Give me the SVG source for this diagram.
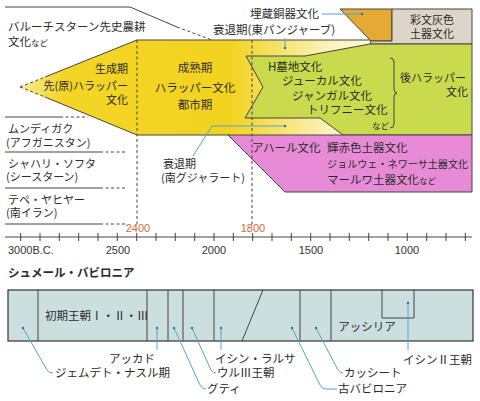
<svg xmlns="http://www.w3.org/2000/svg" width="480" height="401" viewBox="0 0 480 401">
<defs>
<linearGradient id="yg" x1="20" y1="0" x2="372" y2="0" gradientUnits="userSpaceOnUse">
<stop offset="0" stop-color="#f7ec9a"/>
<stop offset="0.12" stop-color="#f4d526"/>
<stop offset="0.6" stop-color="#f3d320"/>
<stop offset="0.88" stop-color="#fbf3bd"/>
<stop offset="1" stop-color="#fdf8d8"/>
</linearGradient>
<style>
text{font-family:"Noto Sans CJK JP","Noto Sans",sans-serif;font-size:11.5px;fill:#2b2b2b}
.num{font-family:"Liberation Sans",Arial,sans-serif;font-size:11px;fill:#333}
.org{font-family:"Liberation Sans",Arial,sans-serif;font-size:11px;fill:#d2683a}
.sm{font-size:8.5px}
.t11{font-size:11px}
.t10{font-size:10.1px}
.ol{fill:none;stroke:#444;stroke-width:1}
.ds{fill:none;stroke:#444;stroke-width:1;stroke-dasharray:3,2.5}
.ld{fill:none;stroke:#4ea4d2;stroke-width:1}
.dot{fill:#2f6f96}
.mid{text-anchor:middle}
.end{text-anchor:end}
</style>
</defs>
<rect width="480" height="401" fill="#ffffff"/>

<g id="baluchistan">
<path class="ol" d="M5,7 H130 L177,27"/>
<path class="ds" d="M177,27 L212,40"/>
<text x="8" y="31">バルーチスターン先史農耕</text>
<text x="8" y="46">文化<tspan class="sm">など</tspan></text>
</g>

<g id="harappa">
<polygon points="20,87 137,40 372,40 372,135 137,135" fill="url(#yg)"/>
<path class="ds" d="M20,87 L45,77 M20,87 L45,97"/>
<path class="ol" d="M45,77 L137,40 H372 M45,97 L137,135 H230"/>
<text class="end t11" x="128" y="73">生成期</text>
<text class="end t11" x="128" y="90">先(原)ハラッパー</text>
<text class="end t11" x="128" y="104">文化</text>
<text class="mid" x="195" y="72">成熟期</text>
<text class="mid" x="195" y="92">ハラッパー文化</text>
<text class="mid" x="195" y="109">都市期</text>
</g>

<g id="mundigak">
<path class="ol" d="M5,117 H60"/>
<path class="ds" d="M60,117 H88"/>
<text class="t11" x="8" y="133">ムンディガク</text>
<text class="t11" x="6" y="147">(アフガニスタン)</text>
</g>

<g id="shahr-i-sokhta">
<path class="ol" d="M5,152 H100"/>
<path class="ds" d="M100,152 H125"/>
<text class="t11" x="8" y="168">シャハリ・ソフタ</text>
<text class="t11" x="6" y="181">(シースターン)</text>
</g>

<g id="tepe-yahya">
<path class="ol" d="M5,188 H100"/>
<path class="ds" d="M100,188 H125"/>
<text class="t11" x="8" y="204">テペ・ヤヒヤー</text>
<text class="t11" x="6" y="217">(南イラン)</text>
<path class="ol" d="M5,224 H100"/>
<path class="ds" d="M100,224 H125"/>
</g>

<g id="copper-hoard">
<polygon points="340,9 392,9 392,41 371,41" fill="#e4aa33" stroke="#444" stroke-width="1"/>
<text x="250" y="18">埋蔵銅器文化</text>
</g>

<g id="painted-grey-ware">
<polygon points="392,9 472,9 472,44 370,44 371,41 392,41" fill="#ddd5c7" stroke="#444" stroke-width="1"/>
<text class="mid t11" x="432" y="24">彩文灰色</text>
<text class="mid t11" x="432" y="38">土器文化</text>
</g>

<g id="late-harappa">
<polygon points="246,56 305,56 370,44 472,44 472,135 343,135 320,118 245,118 263,87" fill="#c9da4c" stroke="#444" stroke-width="1"/>
<text x="268" y="71">H墓地文化</text>
<text x="282" y="85">ジューカル文化</text>
<text x="292" y="100">ジャンガル文化</text>
<text x="307" y="114">トリフニー文化</text>
<text class="sm" x="372" y="129">など</text>
<path class="ol" d="M390,58 q4,0 4,4 v27 q0,4 3,4 q-3,0 -3,4 v27 q0,4 -4,4"/>
<text class="t11" x="400" y="82">後ハラッパー</text>
<text class="end t11" x="468" y="96">文化</text>
</g>

<g id="east-punjab">
<text x="213" y="34">衰退期(東パンジャーブ)</text>
</g>

<g id="ahar">
<polygon points="228,135 472,135 472,192 285,192" fill="#e78bd6" stroke="#444" stroke-width="1"/>
<text x="252" y="152">アハール文化</text>
<text x="327" y="152">輝赤色土器文化</text>
<text class="t10" x="327" y="168">ジョルウェ・ネワーサ土器文化</text>
<text x="327" y="184">マールワ土器文化<tspan class="sm">など</tspan></text>
</g>

<g id="south-gujarat">
<text class="t11" x="163" y="168">衰退期</text>
<text class="t11" x="161" y="182">(南グジャラート)</text>
</g>

<g id="dividers">
<path class="ds" d="M137,40 V226 M252,40 V226"/>
<text class="org mid" x="138" y="232">2400</text>
<text class="org mid" x="253" y="232">1800</text>
</g>

<g id="axis">
<path class="ol" d="M5,237 H472"/>
<path class="ol" d="M20.7,233 V241 M40,233 V241 M59.3,233 V241 M78.7,233 V241 M98,233 V241 M117.3,233 V241 M136.7,233 V241 M156,233 V241 M175.3,233 V241 M194.7,233 V241 M214,233 V241 M233.3,233 V241 M252.7,233 V241 M272,233 V241 M291.3,233 V241 M310.7,233 V241 M330,233 V241 M349.3,233 V241 M368.7,233 V241 M388,233 V241 M407.3,233 V241 M426.7,233 V241 M446,233 V241 M465.3,233 V241"/>
<text class="num" x="8" y="254">3000B.C.</text>
<text class="num mid" x="118" y="254">2500</text>
<text class="num mid" x="214" y="254">2000</text>
<text class="num mid" x="311" y="254">1500</text>
<text class="num mid" x="407" y="254">1000</text>
</g>

<g id="mesopotamia">
<text x="8" y="277" font-weight="bold">シュメール・バビロニア</text>
<rect x="8" y="290" width="465" height="51" fill="#cbdfdf" stroke="#333" stroke-width="1.2"/>
<path class="ol" stroke="#333" d="M38,290 V341 M147,290 V341 M168,290 V341 M183,290 V341 M214,290 V341 M263,290 L242,341 M300,290 V341 M331,290 V341 M382,290 V318 H414 V290"/>
<text x="45" y="320">初期王朝Ⅰ・Ⅱ・Ⅲ</text>
<text class="mid" x="367" y="331">アッシリア</text>
<text class="end" x="155" y="363">アッカド</text>
<text x="215" y="363">イシン・ラルサ</text>
<text x="403" y="364">イシンⅡ王朝</text>
<text x="55" y="377">ジェムデト・ナスル期</text>
<text x="217" y="377">ウルⅢ王朝</text>
<text x="344" y="377">カッシート</text>
<text x="207" y="393">グティ</text>
<text x="338" y="393">古バビロニア</text>
</g>

<g id="connectors">
<path class="ld" d="M322,14 H362"/>
<circle class="dot" cx="362" cy="14" r="1.2"/>
<path class="ld" d="M285,38 V48"/>
<circle class="dot" cx="285" cy="48" r="1.2"/>
<path class="ld" d="M193,156 L212,126 H285"/>
<circle class="dot" cx="285" cy="126" r="1.2"/>
<path class="ld" d="M23,328 L47,370 Q49,373 53,373"/>
<circle class="dot" cx="23" cy="328" r="1.2"/>
<path class="ld" d="M157,328 V350"/>
<circle class="dot" cx="157" cy="328" r="1.2"/>
<path class="ld" d="M174,328 L200,385 Q202,389 206,389"/>
<circle class="dot" cx="174" cy="328" r="1.2"/>
<path class="ld" d="M192,328 L211,370 Q213,373 216,373"/>
<circle class="dot" cx="192" cy="328" r="1.2"/>
<path class="ld" d="M221,328 V350"/>
<circle class="dot" cx="221" cy="328" r="1.2"/>
<path class="ld" d="M292,328 L320,385 Q322,389 326,389 H337"/>
<circle class="dot" cx="292" cy="328" r="1.2"/>
<path class="ld" d="M316,328 L338,370 Q340,373 343,373"/>
<circle class="dot" cx="316" cy="328" r="1.2"/>
<path class="ld" d="M408,303 V350"/>
<circle class="dot" cx="408" cy="303" r="1.2"/>
</g>
</svg>
